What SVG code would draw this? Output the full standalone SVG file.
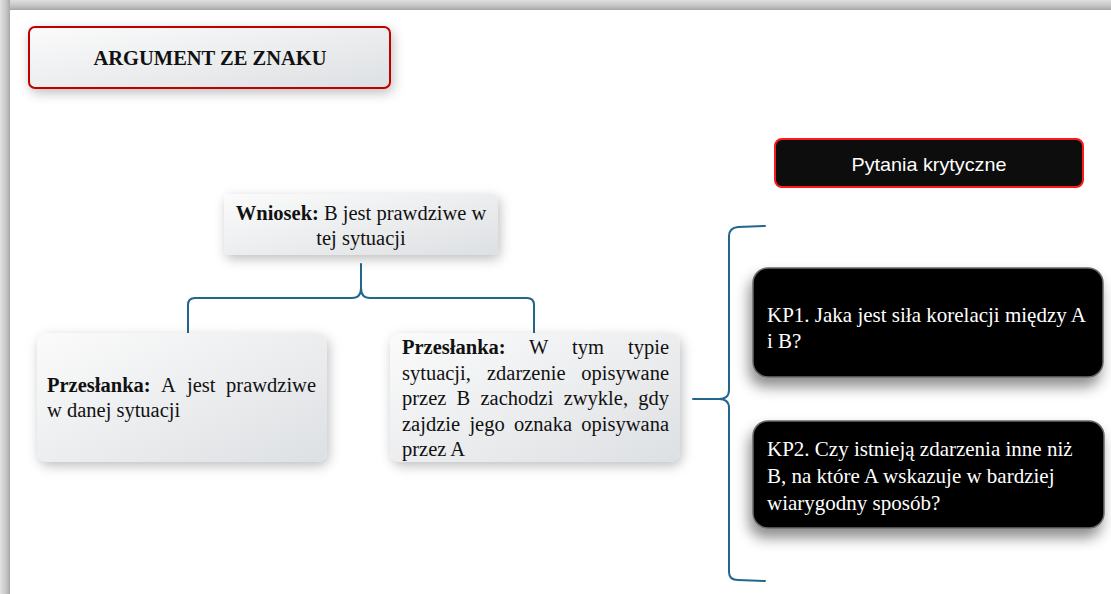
<svg xmlns="http://www.w3.org/2000/svg" width="1111" height="594" viewBox="0 0 1111 594">
<defs>
<linearGradient id="gTop" x1="0" y1="0" x2="0" y2="1"><stop offset="0" stop-color="#dedede"/><stop offset="0.6" stop-color="#c4c4c4"/><stop offset="1" stop-color="#a6a6a6"/></linearGradient>
<linearGradient id="gLeft" x1="0" y1="0" x2="1" y2="0"><stop offset="0" stop-color="#e2e2e2"/><stop offset="0.6" stop-color="#c6c6c6"/><stop offset="1" stop-color="#a8a8a8"/></linearGradient>
<linearGradient id="gBox" x1="0" y1="0" x2="1" y2="1"><stop offset="0" stop-color="#fbfbfb"/><stop offset="1" stop-color="#dde0e3"/></linearGradient>
<filter id="shSoft" x="-20%" y="-30%" width="140%" height="170%"><feDropShadow dx="2" dy="4" stdDeviation="6" flood-color="#000" flood-opacity="0.25"/></filter>
<filter id="shDark" x="-20%" y="-30%" width="140%" height="180%"><feDropShadow dx="-3" dy="9" stdDeviation="7" flood-color="#000" flood-opacity="0.45"/></filter>
<style>
.serif{font-family:"Liberation Serif","Times New Roman",serif;font-size:20.5px;fill:#111}
.b{font-weight:bold}
.kp{font-family:"Liberation Serif","Times New Roman",serif;font-size:21px;fill:#fff}
.conn{fill:none;stroke:#22668e;stroke-width:2;stroke-linejoin:round;stroke-linecap:round}
</style>
</defs>
<rect x="0" y="0" width="1111" height="594" fill="#ffffff"/>
<rect x="0" y="0" width="1111" height="10" fill="url(#gTop)"/>
<rect x="0" y="0" width="10" height="594" fill="url(#gLeft)"/>
<rect x="10" y="10" width="1101" height="584" fill="#ffffff"/>

<g id="connectors">
<path class="conn" d="M188,333 V305 Q188,298 195,298 H352 Q361,298 361,288 V264 M534,333 V305 Q534,298 527,298 H370 Q361,298 361,288"/>
<path class="conn" d="M765,226 L738,227 Q729,228 729,236 V390 Q729,399 719,399 L693,399 L719,399 Q729,399 729,408 V572 Q729,580 738,580 L765,581"/>
</g>

<g id="title">
<rect x="29" y="27" width="361" height="61" rx="6" fill="url(#gBox)" stroke="#c00000" stroke-width="2" filter="url(#shSoft)"/>
<text class="serif b" x="210" y="65" text-anchor="middle">ARGUMENT ZE ZNAKU</text>
</g>

<g id="wniosek">
<rect x="224" y="194" width="274" height="61" rx="5" fill="url(#gBox)" filter="url(#shSoft)"/>
<text class="serif" x="361" y="220" text-anchor="middle"><tspan class="b">Wniosek:</tspan> B jest prawdziwe w</text>
<text class="serif" x="361" y="245" text-anchor="middle">tej sytuacji</text>
</g>

<g id="przeslanka1">
<rect x="37" y="333" width="290" height="129" rx="10" fill="url(#gBox)" filter="url(#shSoft)"/>
<text class="serif b" x="47" y="392">Przesłanka:</text>
<text class="serif" x="161" y="392">A</text>
<text class="serif" x="187" y="392">jest</text>
<text class="serif" x="316" y="392" text-anchor="end">prawdziwe</text>
<text class="serif" x="47" y="417">w danej sytuacji</text>
</g>

<g id="przeslanka2">
<rect x="390" y="333" width="290" height="129" rx="10" fill="url(#gBox)" filter="url(#shSoft)"/>
<text class="serif b" x="402" y="354">Przesłanka:</text>
<text class="serif" x="529" y="354">W</text>
<text class="serif" x="572" y="354">tym</text>
<text class="serif" x="669" y="354" text-anchor="end">typie</text>
<text class="serif" x="402" y="380">sytuacji,</text>
<text class="serif" x="487" y="380">zdarzenie</text>
<text class="serif" x="669" y="380" text-anchor="end">opisywane</text>
<text class="serif" x="402" y="405">przez</text>
<text class="serif" x="456.6" y="405">B</text>
<text class="serif" x="480.5" y="405">zachodzi</text>
<text class="serif" x="563.7" y="405">zwykle,</text>
<text class="serif" x="669" y="405" text-anchor="end">gdy</text>
<text class="serif" x="402" y="431">zajdzie</text>
<text class="serif" x="469.4" y="431">jego</text>
<text class="serif" x="514" y="431">oznaka</text>
<text class="serif" x="669" y="431" text-anchor="end">opisywana</text>
<text class="serif" x="402" y="456">przez A</text>
</g>

<g id="pytania">
<rect x="775" y="139" width="308" height="48" rx="7" fill="#0d0d0d" stroke="#ff1a1a" stroke-width="2"/>
<text x="929" y="171" text-anchor="middle" font-family="'Liberation Sans',Arial,sans-serif" font-size="19" fill="#ffffff" textLength="155" lengthAdjust="spacingAndGlyphs">Pytania krytyczne</text>
</g>

<g id="kp1">
<rect x="753" y="268" width="350" height="109" rx="15" fill="#000" stroke="#6a6a6a" stroke-width="1.5" filter="url(#shDark)"/>
<text class="kp" x="767" y="322">KP1. Jaka jest siła korelacji między A</text>
<text class="kp" x="767" y="348">i B?</text>
</g>

<g id="kp2">
<rect x="753" y="421" width="351" height="107" rx="15" fill="#000" stroke="#6a6a6a" stroke-width="1.5" filter="url(#shDark)"/>
<text class="kp" x="767" y="456">KP2. Czy istnieją zdarzenia inne niż</text>
<text class="kp" x="767" y="483">B, na które A wskazuje w bardziej</text>
<text class="kp" x="767" y="510">wiarygodny sposób?</text>
</g>
</svg>
